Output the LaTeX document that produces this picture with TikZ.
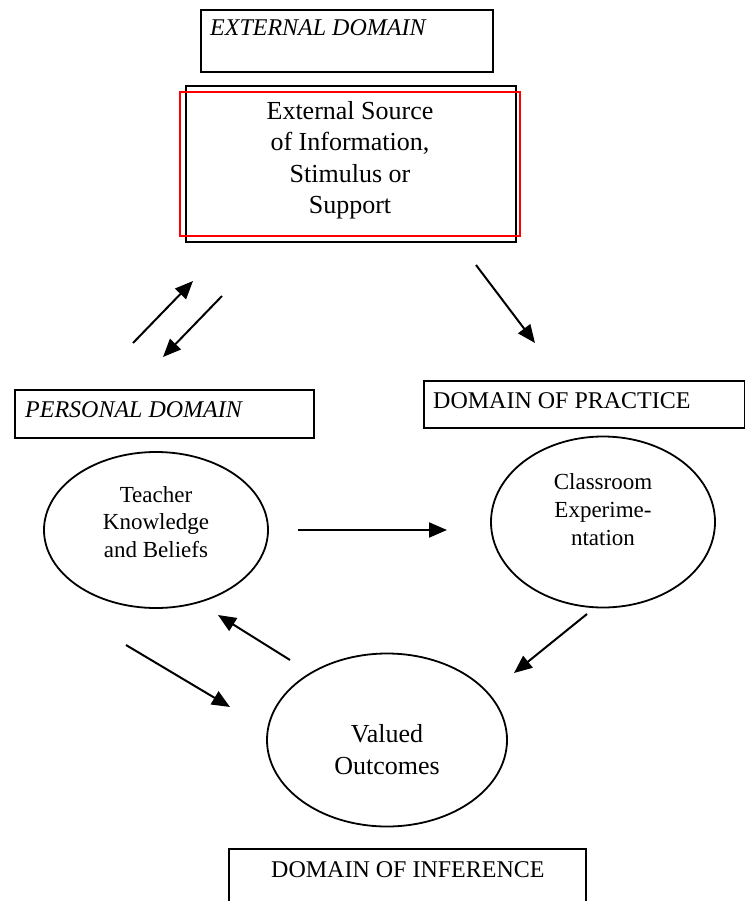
\documentclass[tikz,border=0pt]{standalone}
\usepackage{fontspec}
\setmainfont{Liberation Serif}
\usetikzlibrary{shapes.geometric, arrows.meta, positioning}
\tikzset{
    domainbox/.style={draw, line width=2pt, anchor=north west, inner sep=0pt},
    domainlabel/.style={anchor=base west, inner sep=0pt, font=\fontsize{24}{28}\selectfont},
    idea/.style={draw, ellipse, line width=1.8pt, inner sep=0pt},
    ideatext/.style={align=center, inner sep=0pt},
    flow/.style={line width=2pt, -{Triangle[length=18pt,width=15pt]}}
}

\begin{document}
\begin{tikzpicture}[x=1pt, y=-1pt]
    \useasboundingbox (0,0) rectangle (744,901);

    % external domain
    \node[domainbox, minimum width=292, minimum height=62] (extbox) at (200,9) {};
    \node[domainlabel] (extlabel) at (210,36) {\itshape EXTERNAL DOMAIN};
    \node[domainbox, minimum width=330, minimum height=156] (source) at (185,85) {};
    \draw[red, line width=1.8pt] (180,92) rectangle (520,236);
    \node[ideatext, font=\fontsize{26}{31.5}\selectfont] (sourcetext) at (350,160)
        {External Source\\ of Information,\\ Stimulus or\\ Support};

    % personal domain
    \node[domainbox, minimum width=299, minimum height=48] (persbox) at (14,389) {};
    \node[domainlabel] (perslabel) at (25,417) {\itshape PERSONAL DOMAIN};
    \node[idea, minimum width=224, minimum height=156] (teacher) at (156,530) {};
    \node[ideatext, font=\fontsize{23}{27.5}\selectfont] (teachertext) at (156,522)
        {Teacher\\ Knowledge\\ and Beliefs};

    % domain of practice
    \node[domainbox, minimum width=321, minimum height=47] (pracbox) at (423,380) {};
    \node[domainlabel] (praclabel) at (433,408) {DOMAIN OF PRACTICE};
    \node[idea, minimum width=224, minimum height=171] (classroom) at (603,522) {};
    \node[ideatext, font=\fontsize{23}{28}\selectfont] (classtext) at (603,510)
        {Classroom\\ Experime-\\ ntation};

    % domain of inference
    \node[idea, minimum width=240, minimum height=173] (valued) at (387,740) {};
    \node[ideatext, font=\fontsize{26}{32}\selectfont] (valuedtext) at (387,750)
        {Valued\\ Outcomes};
    \node[domainbox, minimum width=357, minimum height=70] (infbox) at (228,848) {};
    \node[domainlabel] (inflabel) at (271,877) {DOMAIN OF INFERENCE};

    % arrow ends
    \coordinate (up1) at (133,343);
    \coordinate (up2) at (193,281);
    \coordinate (dn1) at (222,296);
    \coordinate (dn2) at (163,357);
    \coordinate (sp1) at (476,265);
    \coordinate (sp2) at (535,343);
    \coordinate (tc1) at (298,530);
    \coordinate (tc2) at (447,530);
    \coordinate (cv1) at (587,614);
    \coordinate (cv2) at (514,673);
    \coordinate (vt1) at (290,660);
    \coordinate (vt2) at (218,615);
    \coordinate (tv1) at (126,645);
    \coordinate (tv2) at (230,707);

    \draw[flow] (up1) -- (up2);
    \draw[flow] (dn1) -- (dn2);
    \draw[flow] (sp1) -- (sp2);
    \draw[flow] (tc1) -- (tc2);
    \draw[flow] (cv1) -- (cv2);
    \draw[flow] (vt1) -- (vt2);
    \draw[flow] (tv1) -- (tv2);
\end{tikzpicture}
\end{document}
